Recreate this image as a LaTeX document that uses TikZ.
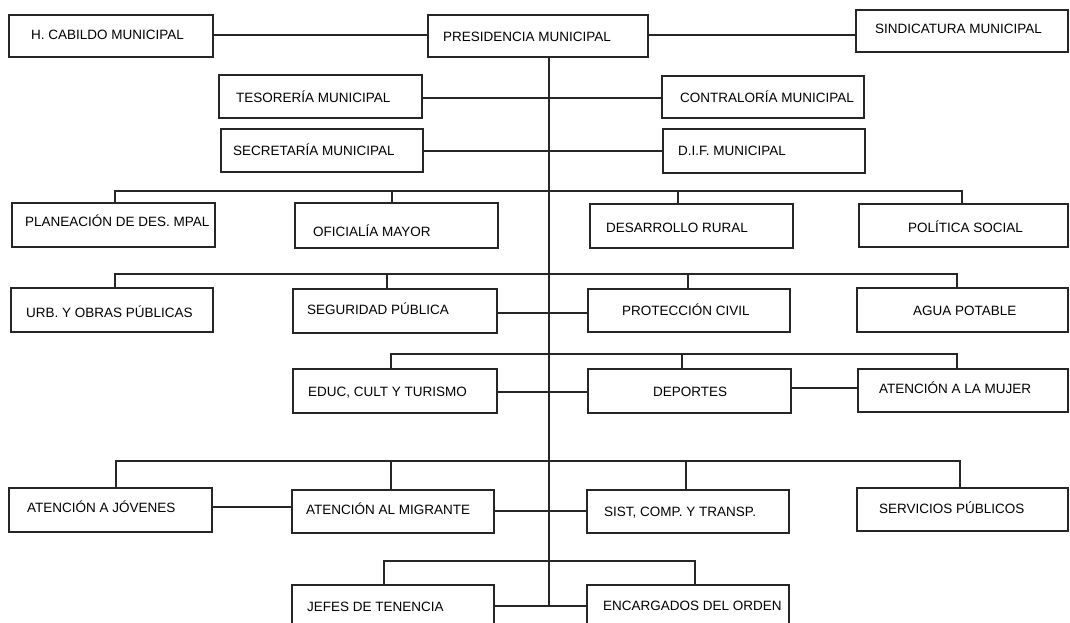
\documentclass[tikz,border=0pt]{standalone}
\usepackage{fontspec}
\setmainfont{Liberation Sans}
\tikzset{
  x=1pt, y=-1pt,
  box/.style={draw=black!85, line width=1.3pt, rectangle, inner sep=0pt},
  lbl/.style={font=\fontsize{13.5}{16}\selectfont, inner sep=0pt, anchor=base west, text=black},
  conn/.style={draw=black!85, line width=1.3pt},
}
\newcommand\orgbox[8]{%
  \node[box, minimum width={(#4-#2)*1pt}, minimum height={(#5-#3)*1pt}] (#1) at ({(#2+#4)/2},{(#3+#5)/2}) {};
  \node[lbl] (#1-t) at (#6,{#7+4.8}) {#8};}
\begin{document}
\begin{tikzpicture}
\useasboundingbox (0,0) rectangle (1070,622);
\clip (0,0) rectangle (1070,622);
\fill[white] (0,0) rectangle (1070,622);
% boxes
\orgbox{cab}{9}{15}{213}{57}{31}{35}{H. CABILDO MUNICIPAL}
\orgbox{pres}{428}{15}{648}{57}{443}{37}{PRESIDENCIA MUNICIPAL}
\orgbox{sind}{856}{10}{1068}{52}{875}{29}{SINDICATURA MUNICIPAL}
\orgbox{tes}{219}{75}{422}{118}{236}{98}{TESORERÍA MUNICIPAL}
\orgbox{con}{662}{76}{864}{118}{680}{98}{CONTRALORÍA MUNICIPAL}
\orgbox{sec}{221}{129}{423}{172}{233}{151}{SECRETARÍA MUNICIPAL}
\orgbox{dif}{663}{129}{865}{173}{678}{151}{D.I.F. MUNICIPAL}
\orgbox{pla}{12}{203}{215}{247}{25}{222}{PLANEACIÓN DE DES. MPAL}
\orgbox{ofi}{295}{203}{498}{248}{313}{232}{OFICIALÍA MAYOR}
\orgbox{des}{590}{204}{793}{248}{606}{228}{DESARROLLO RURAL}
\orgbox{pol}{859}{204}{1068}{247}{908}{228}{POLÍTICA SOCIAL}
\orgbox{urb}{11}{288}{213}{332}{26}{313}{URB. Y OBRAS PÚBLICAS}
\orgbox{seg}{293}{289}{497}{333}{307}{310}{SEGURIDAD PÚBLICA}
\orgbox{pro}{588}{289}{790}{332}{622}{311}{PROTECCIÓN CIVIL}
\orgbox{agu}{857}{288}{1068}{332}{913}{311}{AGUA POTABLE}
\orgbox{edu}{293}{369}{497}{413}{308}{392}{EDUC, CULT Y TURISMO}
\orgbox{dep}{588}{369}{791}{413}{653}{392}{DEPORTES}
\orgbox{muj}{858}{369}{1068}{412}{879}{389}{ATENCIÓN A LA MUJER}
\orgbox{jov}{9}{488}{212}{532}{27}{508}{ATENCIÓN A JÓVENES}
\orgbox{mig}{292}{490}{494}{533}{306}{510}{ATENCIÓN AL MIGRANTE}
\orgbox{sis}{587}{490}{789}{533}{604}{512}{SIST, COMP. Y TRANSP.}
\orgbox{ser}{857}{488}{1068}{531}{879}{509}{SERVICIOS PÚBLICOS}
\orgbox{jef}{292}{585}{494}{640}{307}{607}{JEFES DE TENENCIA}
\orgbox{enc}{587}{585}{789}{640}{603}{606}{ENCARGADOS DEL ORDEN}
% trunk
\coordinate (tr) at (549,606);
\draw[conn] (pres.south -| tr) -- (tr);
% top rows
\coordinate (s35) at (0,35);
\draw[conn] (cab.east |- s35) -- (pres.west |- s35);
\draw[conn] (pres.east |- s35) -- (sind.west |- s35);
\coordinate (s98) at (0,98);
\draw[conn] (tes.east |- s98) -- (con.west |- s98);
\coordinate (s151) at (0,151);
\draw[conn] (sec.east |- s151) -- (dif.west |- s151);
% row 3
\coordinate (r3a) at (115,191); \coordinate (r3b) at (392,191);
\coordinate (r3c) at (678,191); \coordinate (r3d) at (962,191);
\draw[conn] (pla.north -| r3a) -- (r3a) -- (r3d) -- (pol.north -| r3d);
\draw[conn] (r3b) -- (ofi.north -| r3b);
\draw[conn] (r3c) -- (des.north -| r3c);
% row 4
\coordinate (r4a) at (115,274); \coordinate (r4b) at (387,274);
\coordinate (r4c) at (688,274); \coordinate (r4d) at (957,274);
\draw[conn] (urb.north -| r4a) -- (r4a) -- (r4d) -- (agu.north -| r4d);
\draw[conn] (r4b) -- (seg.north -| r4b);
\draw[conn] (r4c) -- (pro.north -| r4c);
\coordinate (s313) at (0,313);
\draw[conn] (seg.east |- s313) -- (pro.west |- s313);
% row 5
\coordinate (r5a) at (391,354); \coordinate (r5b) at (682,354);
\coordinate (r5c) at (957,354);
\draw[conn] (edu.north -| r5a) -- (r5a) -- (r5c) -- (muj.north -| r5c);
\draw[conn] (r5b) -- (dep.north -| r5b);
\coordinate (s392) at (0,392);
\draw[conn] (edu.east |- s392) -- (dep.west |- s392);
\coordinate (s388) at (0,388);
\draw[conn] (dep.east |- s388) -- (muj.west |- s388);
% row 6
\coordinate (r6a) at (116,461); \coordinate (r6b) at (391,461);
\coordinate (r6c) at (686,461); \coordinate (r6d) at (960,461);
\draw[conn] (jov.north -| r6a) -- (r6a) -- (r6d) -- (ser.north -| r6d);
\draw[conn] (r6b) -- (mig.north -| r6b);
\draw[conn] (r6c) -- (sis.north -| r6c);
\coordinate (s507) at (0,507);
\draw[conn] (jov.east |- s507) -- (mig.west |- s507);
\coordinate (s511) at (0,511);
\draw[conn] (mig.east |- s511) -- (sis.west |- s511);
% row 7
\coordinate (r7a) at (384,561); \coordinate (r7b) at (695,561);
\draw[conn] (jef.north -| r7a) -- (r7a) -- (r7b) -- (enc.north -| r7b);
\draw[conn] (jef.east |- tr) -- (enc.west |- tr);
\end{tikzpicture}
\end{document}
